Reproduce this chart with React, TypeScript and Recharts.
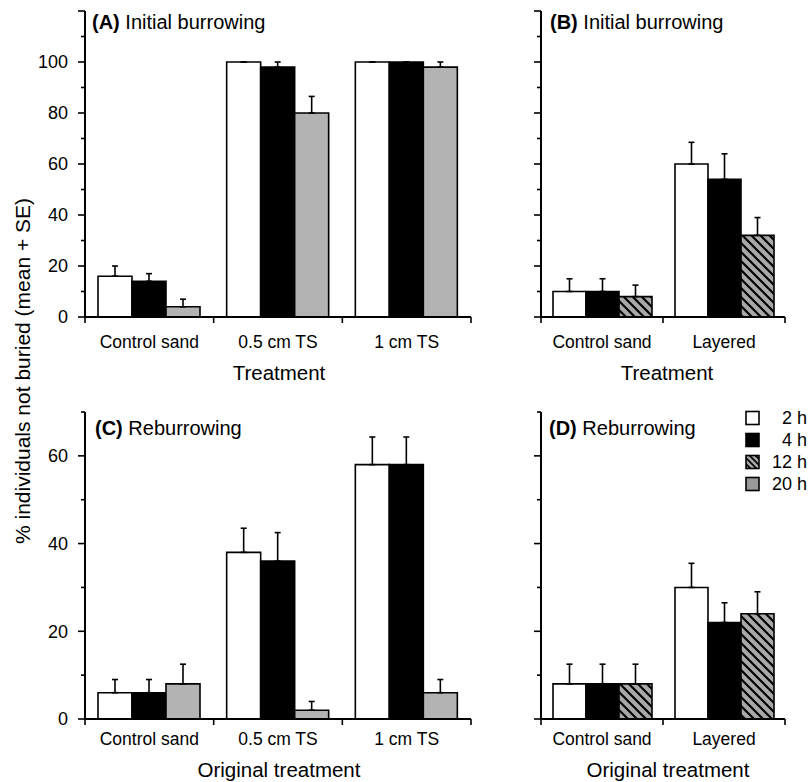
import React from 'react';
import { BarChart, Bar, XAxis, YAxis, ErrorBar } from 'recharts';

const FONT = '"Liberation Sans", Arial, Helvetica, sans-serif';

// ---------- Panel A: Initial burrowing ----------
const catsA = ['Control sand', '0.5 cm TS', '1 cm TS'];
const a2h = [16, 100, 100];
const a2hSE = [4, 0, 0];
const a4h = [14, 98, 100];
const a4hSE = [3, 2, 0];
const a20h = [4, 80, 98];
const a20hSE = [3, 6.5, 2];

// ---------- Panel B: Initial burrowing ----------
const catsB = ['Control sand', 'Layered'];
const b2h = [10, 60];
const b2hSE = [5, 8.5];
const b4h = [10, 54];
const b4hSE = [5, 10];
const b12h = [8, 32];
const b12hSE = [4.5, 7];

// ---------- Panel C: Reburrowing ----------
const catsC = ['Control sand', '0.5 cm TS', '1 cm TS'];
const c2h = [6, 38, 58];
const c2hSE = [3, 5.5, 6.3];
const c4h = [6, 36, 58];
const c4hSE = [3, 6.5, 6.3];
const c20h = [8, 2, 6];
const c20hSE = [4.5, 2, 3];

// ---------- Panel D: Reburrowing ----------
const catsD = ['Control sand', 'Layered'];
const d2h = [8, 30];
const d2hSE = [4.5, 5.5];
const d4h = [8, 22];
const d4hSE = [4.5, 4.5];
const d12h = [8, 24];
const d12hSE = [4.5, 5];

const ticksTop = [0, 10, 20, 30, 40, 50, 60, 70, 80, 90, 100, 110, 120];
const ticksBottom = [0, 10, 20, 30, 40, 50, 60, 70];

const legendLabels = ['2 h', '4 h', '12 h', '20 h'];
const yTitle = '% individuals not buried (mean + SE)';

const GRAY = '#b3b3b3';

function fillFor(label: string, hatchId: string) {
  if (label === '2 h') return '#ffffff';
  if (label === '4 h') return '#000000';
  if (label === '12 h') return `url(#${hatchId})`;
  return GRAY;
}

function buildRows(cats: string[], series: { vals: number[]; se: number[] }[]) {
  return cats.map((name, i) => {
    const row: any = { name };
    series.forEach((s, k) => {
      row['s' + k] = s.vals[i];
      row['e' + k] = [0, s.se[i]];
    });
    return row;
  });
}

const YTick = (props: any) => {
  const { x, y, payload, maxLabel } = props;
  const v = payload.value;
  const major = v % 20 === 0;
  return (
    <g>
      <line x1={x - (major ? 7 : 4)} x2={x} y1={y} y2={y} stroke="#000" strokeWidth={1.6} />
      {major && v <= maxLabel ? (
        <text x={x - 17} y={y} dy="0.35em" textAnchor="end" fontSize={18} fontFamily={FONT} fill="#000">
          {v}
        </text>
      ) : null}
    </g>
  );
};

const XTick = (props: any) => {
  const { x, y, payload, index, visibleTicksCount, band, labelDy } = props;
  const half = band / 2;
  const isLast = index === visibleTicksCount - 1;
  return (
    <g>
      <line x1={x - half} x2={x - half} y1={y} y2={y + 6} stroke="#000" strokeWidth={1.6} />
      {isLast ? <line x1={x + half} x2={x + half} y1={y} y2={y + 6} stroke="#000" strokeWidth={1.6} /> : null}
      <text x={x} y={y + labelDy} dy="0.35em" textAnchor="middle" fontSize={17.5} fontFamily={FONT} fill="#000">
        {payload.value}
      </text>
    </g>
  );
};

function HatchDef({ id }: { id: string }) {
  return (
    <pattern id={id} patternUnits="userSpaceOnUse" width={9} height={9}>
      <rect width={9} height={9} fill="#a8a8a8" />
      <path d="M-2,-2 L11,11 M-2,7 L2,11 M7,-2 L11,2" stroke="#000" strokeWidth={2.2} />
    </pattern>
  );
}

type PanelProps = {
  left: number;
  top: number;
  width: number;
  height: number;
  margin: any;
  yWidth: number;
  xHeight: number;
  cats: string[];
  labels: string[];
  series: { vals: number[]; se: number[] }[];
  domain: [number, number];
  ticks: number[];
  maxLabel: number;
  barSize: number;
  labelDy: number;
  hatchId: string;
};

function Panel(p: PanelProps) {
  const data = buildRows(p.cats, p.series);
  const plotW = p.width - p.margin.left - p.margin.right - p.yWidth;
  const band = plotW / p.cats.length;
  return (
    <div style={{ position: 'absolute', left: p.left, top: p.top }}>
      <BarChart width={p.width} height={p.height} data={data} margin={p.margin} barGap={0} barSize={p.barSize}>
        <defs>
          <HatchDef id={p.hatchId} />
        </defs>
        <XAxis
          dataKey="name"
          height={p.xHeight}
          axisLine={{ stroke: '#000', strokeWidth: 2 }}
          tickLine={false}
          tickSize={0}
          tickMargin={0}
          interval={0}
          tick={(tp: any) => <XTick {...tp} band={band} labelDy={p.labelDy} />}
        />
        <YAxis
          width={p.yWidth}
          domain={p.domain}
          ticks={p.ticks}
          type="number"
          allowDataOverflow
          axisLine={{ stroke: '#000', strokeWidth: 2 }}
          tickLine={false}
          tickSize={0}
          tickMargin={0}
          interval={0}
          tick={(tp: any) => <YTick {...tp} maxLabel={p.maxLabel} />}
        />
        {p.labels.map((lab, k) => (
          <Bar
            key={lab}
            dataKey={'s' + k}
            name={lab}
            fill={fillFor(lab, p.hatchId)}
            stroke="#000"
            strokeWidth={1.6}
            isAnimationActive={false}
          >
            <ErrorBar dataKey={'e' + k} direction="y" width={3} stroke="#000" strokeWidth={1.6} isAnimationActive={false} />
          </Bar>
        ))}
      </BarChart>
    </div>
  );
}

export default function App() {
  const topMargin = { top: 11, right: 9, bottom: 0, left: 25 };
  const topMarginR = { top: 11, right: 26, bottom: 0, left: 21 };
  const botMargin = { top: 12, right: 9, bottom: 0, left: 25 };
  const botMarginR = { top: 12, right: 26, bottom: 0, left: 21 };
  const legendY = [418, 440, 462, 484];
  return (
    <div style={{ position: 'absolute', left: 0, top: 0, width: 811, height: 782, background: '#fff', overflow: 'hidden' }}>
      <Panel
        left={0} top={0} width={480} height={377} margin={topMargin} yWidth={60} xHeight={60}
        cats={catsA} labels={['2 h', '4 h', '20 h']}
        series={[{ vals: a2h, se: a2hSE }, { vals: a4h, se: a4hSE }, { vals: a20h, se: a20hSE }]}
        domain={[0, 120]} ticks={ticksTop} maxLabel={100} barSize={34} labelDy={25} hatchId="hatchA"
      />
      <Panel
        left={480} top={0} width={331} height={377} margin={topMarginR} yWidth={40} xHeight={60}
        cats={catsB} labels={['2 h', '4 h', '12 h']}
        series={[{ vals: b2h, se: b2hSE }, { vals: b4h, se: b4hSE }, { vals: b12h, se: b12hSE }]}
        domain={[0, 120]} ticks={ticksTop} maxLabel={-1} barSize={33} labelDy={25} hatchId="hatchB"
      />
      <Panel
        left={0} top={400} width={480} height={382} margin={botMargin} yWidth={60} xHeight={63}
        cats={catsC} labels={['2 h', '4 h', '20 h']}
        series={[{ vals: c2h, se: c2hSE }, { vals: c4h, se: c4hSE }, { vals: c20h, se: c20hSE }]}
        domain={[0, 70]} ticks={ticksBottom} maxLabel={60} barSize={34} labelDy={20} hatchId="hatchC"
      />
      <Panel
        left={480} top={400} width={331} height={382} margin={botMarginR} yWidth={40} xHeight={63}
        cats={catsD} labels={['2 h', '4 h', '12 h']}
        series={[{ vals: d2h, se: d2hSE }, { vals: d4h, se: d4hSE }, { vals: d12h, se: d12hSE }]}
        domain={[0, 70]} ticks={ticksBottom} maxLabel={-1} barSize={33} labelDy={20} hatchId="hatchD"
      />
      <svg width={811} height={782} style={{ position: 'absolute', left: 0, top: 0, pointerEvents: 'none' }}>
        <defs>
          <pattern id="hatchL" patternUnits="userSpaceOnUse" width={6} height={6}>
            <rect width={6} height={6} fill="#a8a8a8" />
            <path d="M-2,-2 L8,8 M-2,4 L2,8 M4,-2 L8,2" stroke="#000" strokeWidth={1.6} />
          </pattern>
        </defs>
        <g fontFamily={FONT} fill="#000">
          <text transform="translate(23,371) rotate(-90)" textAnchor="middle" dy="0.35em" fontSize={21}>
            {yTitle}
          </text>
          <text x={92} y={22} dy="0.35em" fontSize={20}>
            <tspan fontWeight="bold">(A)</tspan> Initial burrowing
          </text>
          <text x={550} y={22} dy="0.35em" fontSize={20}>
            <tspan fontWeight="bold">(B)</tspan> Initial burrowing
          </text>
          <text x={95} y={428} dy="0.35em" fontSize={20}>
            <tspan fontWeight="bold">(C)</tspan> Reburrowing
          </text>
          <text x={549} y={428} dy="0.35em" fontSize={20}>
            <tspan fontWeight="bold">(D)</tspan> Reburrowing
          </text>
          <text x={279} y={373} dy="0.35em" textAnchor="middle" fontSize={20.5}>Treatment</text>
          <text x={667} y={373} dy="0.35em" textAnchor="middle" fontSize={20.5}>Treatment</text>
          <text x={279} y={770} dy="0.35em" textAnchor="middle" fontSize={20.5}>Original treatment</text>
          <text x={668} y={770} dy="0.35em" textAnchor="middle" fontSize={20.5}>Original treatment</text>
          {legendLabels.map((lab, i) => (
            <g key={lab}>
              <rect
                x={746} y={legendY[i] - 6.5} width={13} height={13}
                fill={lab === '12 h' ? 'url(#hatchL)' : lab === '20 h' ? '#999' : fillFor(lab, 'hatchL')}
                stroke="#000" strokeWidth={1.6}
              />
              <text x={807} y={legendY[i]} dy="0.35em" textAnchor="end" fontSize={18}>{lab}</text>
            </g>
          ))}
        </g>
      </svg>
    </div>
  );
}
